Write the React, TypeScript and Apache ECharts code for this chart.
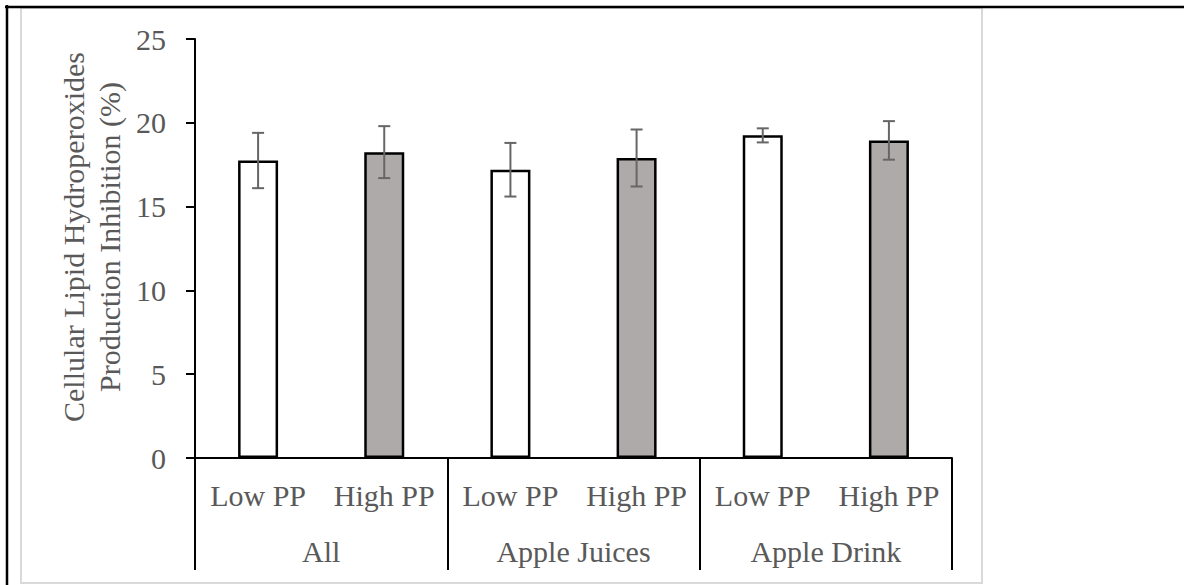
import React, { useEffect, useRef } from "react";
import * as echarts from "echarts";

const subCategories = ["Low PP", "High PP", "Low PP", "High PP", "Low PP", "High PP"];
const groups = ["All", "Apple Juices", "Apple Drink"];
const values = [17.75, 18.25, 17.2, 17.9, 19.25, 18.95];
const errors = [1.65, 1.55, 1.6, 1.7, 0.42, 1.15];
const yTicks = { min: 0, max: 25, interval: 5 };
const yTitle = ["Cellular Lipid Hydroperoxides", "Production Inhibition (%)"];

const FONT = '"Liberation Serif", "Times New Roman", serif';
const TEXT = "#595959";

export default function App() {
  const ref = useRef<HTMLDivElement>(null);
  useEffect(() => {
    if (!ref.current) return;
    const chart = echarts.init(ref.current, undefined, { renderer: "svg" });
    const option: any = {
      animation: false,
      backgroundColor: "#ffffff",
      grid: { left: 195, top: 39, width: 757, height: 419, containLabel: false },
      xAxis: [
        {
          type: "category",
          data: subCategories,
          position: "bottom",
          axisLine: { show: true, lineStyle: { color: "#000", width: 2 } },
          axisTick: { show: false },
          axisLabel: { color: TEXT, fontSize: 30, fontFamily: FONT, margin: 22, interval: 0 },
          splitLine: { show: false },
        },
        {
          type: "category",
          data: groups,
          position: "bottom",
          axisLine: { show: false },
          axisTick: { show: true, length: 112, lineStyle: { color: "#000", width: 2 } },
          axisLabel: { color: TEXT, fontSize: 30, fontFamily: FONT, margin: 78, interval: 0 },
          splitLine: { show: false },
        },
      ],
      yAxis: {
        type: "value",
        min: yTicks.min,
        max: yTicks.max,
        interval: yTicks.interval,
        axisLine: { show: true, lineStyle: { color: "#000", width: 2 } },
        axisTick: { show: true, length: 9, lineStyle: { color: "#000", width: 2 } },
        axisLabel: { color: TEXT, fontSize: 30, fontFamily: FONT, margin: 29 },
        splitLine: { show: false },
      },
      series: [
        {
          type: "bar",
          xAxisIndex: 0,
          barWidth: 40,
          data: values.map((v, i) => ({
            value: v,
            itemStyle: {
              color: i % 2 === 0 ? "#ffffff" : "#AEAAAA",
              borderColor: "#000",
              borderWidth: 2.5,
            },
          })),
          z: 2,
        },
        {
          type: "custom",
          xAxisIndex: 0,
          z: 5,
          data: values.map((v, i) => [i, v, errors[i]]),
          renderItem: (params: any, api: any) => {
            const x = api.value(0);
            const v = api.value(1);
            const e = api.value(2);
            const top = api.coord([x, v + e]);
            const bot = api.coord([x, v - e]);
            const hw = 6;
            const style = { stroke: "#666666", lineWidth: 2 };
            return {
              type: "group",
              children: [
                { type: "line", shape: { x1: top[0], y1: top[1], x2: bot[0], y2: bot[1] }, style },
                { type: "line", shape: { x1: top[0] - hw, y1: top[1], x2: top[0] + hw, y2: top[1] }, style },
                { type: "line", shape: { x1: bot[0] - hw, y1: bot[1], x2: bot[0] + hw, y2: bot[1] }, style },
              ],
            };
          },
        },
      ],
      graphic: [
        {
          type: "rect",
          shape: { x: 21, y: 8, width: 961, height: 575 },
          style: { fill: "none", stroke: "#d9d9d9", lineWidth: 2 },
          silent: true,
          z: -1,
        },
        {
          type: "line",
          shape: { x1: 5, y1: 7, x2: 1184, y2: 7 },
          style: { stroke: "#000", lineWidth: 2.5 },
        },
        {
          type: "line",
          shape: { x1: 7, y1: 5, x2: 7, y2: 585 },
          style: { stroke: "#000", lineWidth: 2.5 },
        },
        {
          type: "text",
          x: 91,
          y: 237,
          rotation: Math.PI / 2,
          style: {
            text: yTitle.join("\n"),
            fill: TEXT,
            fontSize: 30,
            fontFamily: FONT,
            align: "center",
            verticalAlign: "middle",
            lineHeight: 36,
          },
        },
      ],
    };
    chart.setOption(option);
    return () => chart.dispose();
  }, []);
  return (
    <div
      ref={ref}
      style={{ position: "fixed", left: 0, top: 0, width: 1184, height: 585 }}
    />
  );
}
